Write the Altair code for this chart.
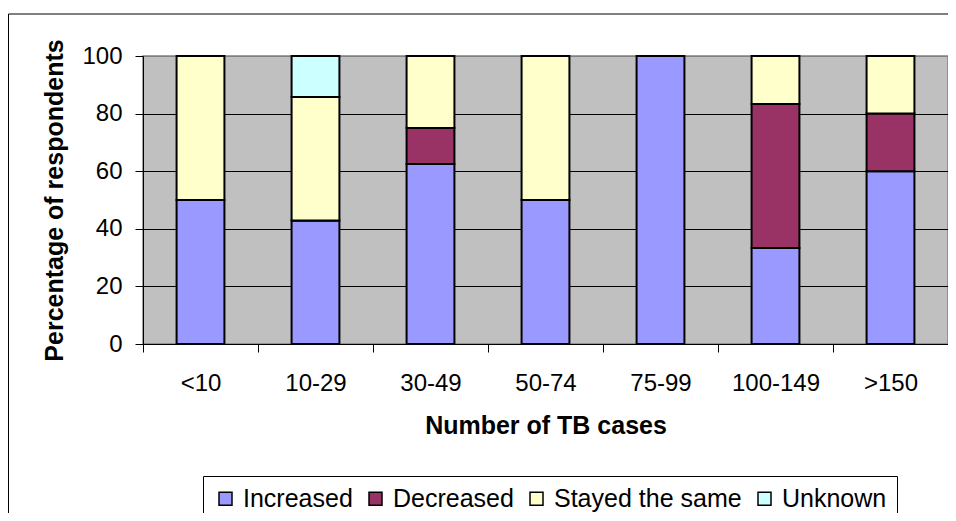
import altair as alt
import pandas as pd

categories = ["<10", "10-29", "30-49", "50-74", "75-99", "100-149", ">150"]
series = ["Increased", "Decreased", "Stayed the same", "Unknown"]
increased = [50.0, 42.9, 62.5, 50.0, 100.0, 33.3, 60.0]
decreased = [0.0, 0.0, 12.5, 0.0, 0.0, 50.0, 20.0]
stayed = [50.0, 42.9, 25.0, 50.0, 0.0, 16.7, 20.0]
unknown = [0.0, 14.2, 0.0, 0.0, 0.0, 0.0, 0.0]
colors = ["#9999FF", "#993366", "#FFFFCC", "#CCFFFF"]

rows = []
for i, c in enumerate(categories):
    for k, (s, vals) in enumerate(zip(series, [increased, decreased, stayed, unknown])):
        rows.append({"cat": c, "series": s, "value": vals[i], "k": k})
df = pd.DataFrame(rows)

FONT = "Liberation Sans"

bars = alt.Chart(df).mark_bar(
    width=alt.RelativeBandSize(0.416), stroke="black", strokeWidth=2
).encode(
    x=alt.X("cat:N", sort=categories, title="Number of TB cases",
            scale=alt.Scale(paddingInner=0, paddingOuter=0),
            axis=alt.Axis(labelAngle=0, tickBand="extent", tickSize=8, labelPadding=19,
                          titlePadding=18, grid=False)),
    y=alt.Y("value:Q", stack="zero", title="Percentage of respondents",
            scale=alt.Scale(domain=[0, 100], nice=False),
            axis=alt.Axis(values=[0, 20, 40, 60, 80, 100], tickSize=8, labelPadding=13,
                          titlePadding=14, grid=True,
                          gridColor={"condition": {"test": "datum.value === 100", "value": "#808080"},
                                     "value": "black"})),
    color=alt.Color("series:N", sort=series,
                    scale=alt.Scale(domain=series, range=colors),
                    legend=alt.Legend(orient="none", legendX=60, legendY=420, direction="horizontal",
                                      title=None, strokeColor="black", fillColor="white", padding=10,
                                      symbolType="square", symbolSize=169, symbolStrokeColor="black",
                                      symbolStrokeWidth=1.5, labelFontSize=25, labelFont=FONT,
                                      labelLimit=400, labelOffset=5, columnPadding=10,
                                      labelColor="black")),
    order=alt.Order("k:Q", sort="ascending"),
)

frame = alt.Chart(pd.DataFrame({"a": [0]})).mark_rect(
    fillOpacity=0, stroke="black", strokeWidth=1
).encode(
    x=alt.value(-134.5), x2=alt.value(1000), y=alt.value(-42), y2=alt.value(600)
)

chart = alt.layer(frame, bars).properties(
    width=805, height=288,
    padding={"left": 135, "top": 48, "right": 0, "bottom": 169},
    autosize=alt.AutoSizeParams(type="none"),
).configure_view(
    fill="#C0C0C0", stroke="#808080", strokeWidth=1.5
).configure_axis(
    labelFont=FONT, titleFont=FONT, labelFontSize=24, titleFontSize=25,
    titleFontWeight="bold", labelColor="black", titleColor="black",
    domainColor="black", tickColor="black", gridWidth=1, domainWidth=1
)

chart.save("out.html", embed_options={"renderer": "svg", "actions": False})
